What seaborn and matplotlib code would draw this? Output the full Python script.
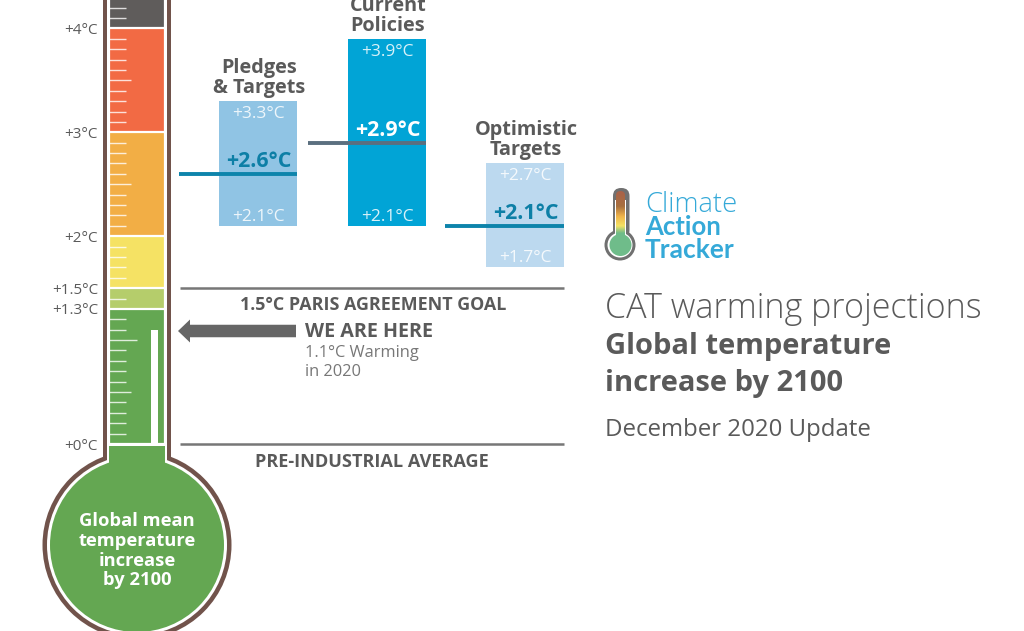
import numpy as np
import matplotlib.pyplot as plt
from matplotlib.colors import LinearSegmentedColormap
from matplotlib.patches import Circle, FancyArrow, FancyBboxPatch, Rectangle
import seaborn as sns

# thermometer zones, top value of each band (drawn back to front)
zone_tops = [4.6, 4.0, 3.0, 2.0, 1.5, 1.3]
zone_colors = ["#5f5c5b", "#f26a44", "#f2ae45", "#f5e264", "#b5cd6b", "#64a752"]
axis_ticks = [0, 1.3, 1.5, 2, 3, 4]
axis_labels = ["+0°C", "+1.3°C", "+1.5°C", "+2°C", "+3°C", "+4°C"]
short_ticks = [0.1, 0.2, 0.3, 0.4, 0.6, 0.7, 0.8, 0.9, 1.1, 1.2, 1.4,
               1.6, 1.7, 1.8, 1.9, 2.1, 2.2, 2.3, 2.4, 2.6, 2.7, 2.8, 2.9,
               3.1, 3.2, 3.3, 3.4, 3.6, 3.7, 3.8, 3.9, 4.1, 4.2]
mid_ticks = [0.5, 2.5, 3.5]
one_tick = [1.0]
warming_now = 1.1

# scenario ranges
scenarios = ["Pledges\n& Targets", "Current\nPolicies", "Optimistic\nTargets"]
low = [2.1, 2.1, 1.7]
mid = [2.6, 2.9, 2.1]
high = [3.3, 3.9, 2.7]
paris_goal = 1.5
preindustrial = 0

bar_x = [258, 387, 525]
bar_colors = ["#90c4e4", "#01a4d6", "#bcd9ef"]
mid_colors = ["#0d84ab", "#5b6f7f", "#0d84ab"]
mid_text = ["#0d7fa6", "white", "#0d7fa6"]
line_start = [179, 308, 445]

GREY = "#5a5a5a"
BROWN = "#71534b"
GREEN = "#64a752"
LOGO = "#35a9d8"

sns.set_theme(style="white")
plt.rcParams["font.family"] = ["Open Sans", "DejaVu Sans"]

fig = plt.figure(figsize=(10.24, 6.31), dpi=100)

# pixel-space layer for the glass, logo and captions
deco = fig.add_axes([0, 0, 1, 1])
deco.set_xlim(0, 1024)
deco.set_ylim(631, 0)
deco.axis("off")

deco.add_patch(Circle((137, 545), 94.5, fc=BROWN, ec="none"))
deco.add_patch(Rectangle((102.5, -5), 68.5, 485, fc=BROWN, ec="none"))
deco.add_patch(Circle((137, 545), 90, fc="white", ec="none"))
deco.add_patch(Rectangle((106.5, -5), 60.5, 490, fc="white", ec="none"))
deco.add_patch(Circle((137, 545), 87, fc=GREEN, ec="none"))
deco.add_patch(Rectangle((109, 446), 56, 60, fc=GREEN, ec="none"))

for txt, yy in zip(["Global mean", "temperature", "increase", "by 2100"], [521, 541, 561, 580]):
    deco.text(137, yy, txt, color="white", fontsize=13.2, fontweight="bold", ha="center", va="center")

# temperature axis: left edge sits on the glass, y is in degrees
ax = fig.add_axes([102 / 1024, 0, 922 / 1024, 1])
ax.patch.set_alpha(0)

for top, col in zip(zone_tops, zone_colors):
    sns.barplot(x=[137], y=[top], color=col, width=56, native_scale=True,
                saturation=1, edgecolor="white", linewidth=1.6, ax=ax)
sns.barplot(x=[154.5], y=[warming_now], color="white", width=7.6, native_scale=True,
            saturation=1, linewidth=0, ax=ax)

ax.hlines(short_ticks, 109, 126, color="white", lw=1, alpha=0.8)
ax.hlines(mid_ticks, 109, 131, color="white", lw=1, alpha=0.8)
ax.hlines(one_tick, 109, 137, color="white", lw=1, alpha=0.8)

for i, name in enumerate(scenarios):
    half = 39.3
    sns.barplot(x=[bar_x[i]], y=[high[i] - low[i]], bottom=low[i], color=bar_colors[i],
                width=half * 2, native_scale=True, saturation=1, linewidth=0, ax=ax)
    ax.plot([line_start[i], bar_x[i] + half], [mid[i], mid[i]], color=mid_colors[i],
            lw=2.8, solid_capstyle="butt")
    ax.annotate(f"+{high[i]}°C", (bar_x[i], high[i]), xytext=(0, -13), textcoords="offset pixels",
                color="white", alpha=0.85, fontsize=12.5, ha="center", va="center")
    ax.annotate(f"+{low[i]}°C", (bar_x[i], low[i]), xytext=(0, 9), textcoords="offset pixels",
                color="white", alpha=0.85, fontsize=12.5, ha="center", va="center")
    ax.annotate(f"+{mid[i]}°C", (bar_x[i] + 1, mid[i]), xytext=(0, 12), textcoords="offset pixels",
                color=mid_text[i], fontsize=15.4, fontweight="bold", ha="center", va="center")
    first, second = name.split("\n")
    ax.annotate(first, (bar_x[i] + 1, high[i]), xytext=(0, 33), textcoords="offset pixels",
                color=GREY, fontsize=14.3, fontweight="bold", ha="center", va="center")
    ax.annotate(second, (bar_x[i] + 1, high[i]), xytext=(0, 13), textcoords="offset pixels",
                color=GREY, fontsize=14.3, fontweight="bold", ha="center", va="center")

ax.hlines([paris_goal, preindustrial], 180, 564, color="#777777", lw=1.8)
ax.annotate("1.5°C PARIS AGREEMENT GOAL", (373, paris_goal), xytext=(0, -16.5),
            textcoords="offset pixels", color=GREY, fontsize=12.9, fontweight="bold", ha="center", va="center")
ax.annotate("PRE-INDUSTRIAL AVERAGE", (372, preindustrial), xytext=(0, -18),
            textcoords="offset pixels", color=GREY, fontsize=13.1, fontweight="bold", ha="center", va="center")

# degrees to figure height: 0°C at 444 px, 103.9 px per degree
ax.set_xlim(102, 1024)
ax.set_ylim((444 - 631) / 103.9, 444 / 103.9)
ax.set_xticks([])
ax.set_yticks(axis_ticks)
ax.set_yticklabels(axis_labels)
ax.tick_params(axis="y", length=0, pad=3, labelsize=11, labelcolor=GREY)
ax.set_xlabel("")
ax.set_ylabel("")
sns.despine(ax=ax, left=True, bottom=True)
ax.grid(False)

# we are here arrow
deco.add_patch(FancyArrow(296, 331, -118, 0, width=12.5, head_width=23, head_length=12,
                          length_includes_head=True, fc="#666666", ec="none"))
deco.text(305, 332, "WE ARE HERE", color=GREY, fontsize=14.2, fontweight="bold", va="center")
deco.text(305, 353, "1.1°C Warming", color="#777777", fontsize=11.8, va="center")
deco.text(305, 372, "in 2020", color="#777777", fontsize=11.8, va="center")

# right hand title block
deco.text(605, 309, "CAT warming projections", color=GREY, fontsize=24.5, fontweight="light", va="center")
deco.text(605, 346.5, "Global temperature", color=GREY, fontsize=21, fontweight="bold", va="center")
deco.text(605, 383.5, "increase by 2100", color=GREY, fontsize=21, fontweight="bold", va="center")
deco.text(605, 430, "December 2020 Update", color=GREY, fontsize=17.3, va="center")

# logo
deco.add_patch(Circle((620, 245), 15.5, fc="#707070", ec="none"))
deco.add_patch(FancyBboxPatch((613, 188), 16.5, 50, boxstyle="round,pad=0,rounding_size=8",
                              fc="#707070", ec="none"))
deco.add_patch(Circle((620, 245), 12.5, fc="white", ec="none"))
deco.add_patch(Rectangle((614.8, 200), 11.4, 40, fc="white", ec="none"))
glass = FancyBboxPatch((616, 191), 9, 50, boxstyle="round,pad=0,rounding_size=4.5",
                       fc="none", ec="none", transform=deco.transData)
deco.add_patch(glass)
logo_cmap = LinearSegmentedColormap.from_list(
    "logo", [(0, "#a8624a"), (0.3, "#a8703f"), (0.5, "#efb34a"), (0.7, "#f5e264"), (0.85, "#6fbc8a"), (1, "#6fbc8a")])
grad = np.linspace(0, 1, 64).reshape(-1, 1)
img = deco.imshow(grad, cmap=logo_cmap, extent=(616, 625, 241, 191), aspect="auto", zorder=3)
img.set_clip_path(glass)
deco.add_patch(Circle((620.5, 245), 11, fc="#6fbc8a", ec="none", zorder=3))
deco.set_xlim(0, 1024)
deco.set_ylim(631, 0)

deco.text(645, 205, "Climate", color=LOGO, fontsize=19.7, fontweight="light", va="center")
deco.text(645, 227, "Action", color=LOGO, fontsize=18.5, fontweight="bold", family="Lato", va="center")
deco.text(645, 249.5, "Tracker", color=LOGO, fontsize=19, fontweight="bold", family="Lato", va="center")

fig.savefig("out.png", dpi=100)
